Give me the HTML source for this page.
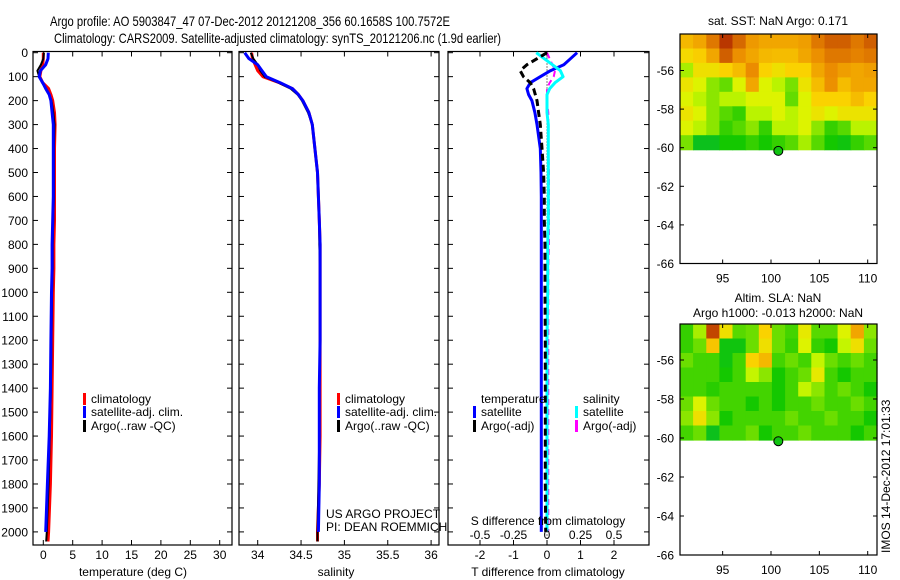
<!DOCTYPE html>
<html><head><meta charset="utf-8"><style>
html,body{margin:0;padding:0;background:#fff;}
svg{display:block;font-family:"Liberation Sans",sans-serif;}
</style></head><body>
<svg id="fig" width="900" height="580" viewBox="0 0 900 580" xmlns="http://www.w3.org/2000/svg">
<text x="50" y="26" font-size="14" textLength="400" lengthAdjust="spacingAndGlyphs">Argo profile: AO 5903847_47 07-Dec-2012 20121208_356 60.1658S 100.7572E</text>
<text x="54" y="43" font-size="14" textLength="447" lengthAdjust="spacingAndGlyphs">Climatology: CARS2009. Satellite-adjusted climatology: synTS_20121206.nc (1.9d earlier)</text>
<g id="content"></g>
</svg>
<script>
// ---------- data ----------
const depths = [0,25,50,75,100,125,150,175,200,250,300,400,500,600,700,800,900,1000,1200,1400,1600,1800,2000,2040];
const tempClim = [0.0,0.0,-0.1,-0.4,-0.6,-0.1,0.9,1.3,1.6,1.9,2.0,1.9,1.9,1.9,1.9,1.8,1.8,1.7,1.6,1.5,1.4,1.2,0.9,0.8];
const tempSat  = [0.85,0.8,0.4,-0.5,-0.7,-0.1,0.4,1.0,1.3,1.5,1.7,1.7,1.7,1.7,1.6,1.5,1.5,1.4,1.3,1.2,1.0,0.7,0.4,0.3];
const tempArgo = [0.1,0.0,-0.4,-1.0,-0.7,-0.2,0.5,1.0,1.4,1.7,1.9,1.8,1.8,1.8,1.7,1.6,1.6,1.5,1.4,1.3,1.1,0.9,0.6,0.5];
const salClim = [33.93,33.94,33.97,34.0,34.06,34.25,34.40,34.47,34.52,34.59,34.63,34.66,34.69,34.70,34.71,34.72,34.72,34.72,34.72,34.72,34.72,34.71,34.69,34.69];
const salSat  = [33.85,33.9,34.0,34.05,34.10,34.26,34.40,34.47,34.52,34.59,34.63,34.66,34.69,34.70,34.71,34.72,34.72,34.72,34.72,34.71,34.71,34.71,34.70,34.70];
const salArgo = [33.92,33.95,34.0,34.03,34.08,34.24,34.38,34.46,34.51,34.58,34.63,34.66,34.69,34.70,34.71,34.71,34.72,34.72,34.72,34.71,34.71,34.70,34.69,34.69];
const diffDepths = [0,25,50,75,100,125,150,175,200,250,300,400,500,600,700,800,900,1000,1200,1400,1600,1800,2000];
const dTsat  = [0.9,0.7,0.5,0.1,-0.2,-0.5,-0.6,-0.55,-0.45,-0.36,-0.3,-0.2,-0.18,-0.17,-0.17,-0.17,-0.17,-0.17,-0.17,-0.17,-0.17,-0.17,-0.17];
const dSsat  = [-0.08,-0.02,0.04,0.1,0.12,0.06,0.02,0.0,0.0,0.0,0.01,0.01,0.01,0.01,0.01,0.005,0.005,0.005,0.0,0.0,0.0,0.0,0.0];
const dTargo = [0.0,-0.3,-0.6,-0.8,-0.7,-0.5,-0.4,-0.35,-0.3,-0.25,-0.2,-0.15,-0.1,-0.08,-0.08,-0.06,-0.06,-0.06,-0.05,-0.05,-0.05,-0.05,-0.04];
const dSargo = [0.0,0.02,0.04,0.06,0.05,0.02,0.0,0.0,0.0,0.01,0.01,0.01,0.015,0.015,0.015,0.015,0.01,0.01,0.01,0.01,0.01,0.01,0.01];
const depthTicks = [0,100,200,300,400,500,600,700,800,900,1000,1100,1200,1300,1400,1500,1600,1700,1800,1900,2000];
const tempTicks = [0,5,10,15,20,25,30];
const salTicks = [34,34.5,35,35.5,36];
const salTickLabels = ["34","34.5","35","35.5","36"];
const dTTicks = [-2,-1,0,1,2];
const dSTicks = [-0.5,-0.25,0,0.25,0.5];
const dSTickLabels = ["-0.5","-0.25","0","0.25","0.5"];
const latTicks = [-56,-58,-60,-62,-64,-66];
const lonTicks = [95,100,105,110];
const sstGrid = [
 [.68,.72,.82,.95,.85,.75,.72,.72,.72,.74,.82,.87,.87,.82,.87],
 [.6,.63,.72,.87,.77,.72,.68,.67,.67,.72,.77,.82,.82,.8,.82],
 [.45,.58,.58,.62,.67,.78,.62,.58,.62,.62,.72,.78,.74,.72,.74],
 [.57,.52,.42,.37,.52,.72,.52,.47,.4,.57,.67,.77,.67,.72,.72],
 [.52,.47,.42,.47,.47,.52,.52,.52,.37,.52,.62,.62,.62,.67,.62],
 [.57,.52,.42,.35,.3,.47,.47,.52,.47,.52,.57,.52,.57,.57,.57],
 [.52,.47,.42,.3,.35,.42,.3,.47,.47,.52,.42,.3,.35,.47,.47],
 [.4,.15,.15,.25,.25,.3,.25,.3,.35,.45,.35,.25,.2,.3,.35]];
const slaGrid = [
 [.3,.45,.92,.58,.35,.38,.62,.38,.32,.55,.35,.35,.52,.72,.42],
 [.3,.38,.65,.2,.2,.38,.58,.38,.3,.52,.3,.25,.48,.58,.38],
 [.38,.32,.32,.2,.32,.62,.68,.32,.38,.32,.48,.38,.32,.38,.32],
 [.32,.32,.32,.25,.32,.48,.42,.25,.32,.38,.55,.32,.25,.32,.32],
 [.32,.32,.28,.32,.32,.32,.32,.25,.32,.48,.42,.32,.38,.32,.25],
 [.38,.52,.38,.32,.32,.25,.32,.25,.32,.32,.38,.32,.32,.38,.32],
 [.42,.58,.42,.25,.32,.32,.32,.32,.38,.32,.32,.38,.32,.32,.25],
 [.32,.38,.15,.32,.32,.38,.25,.32,.32,.38,.32,.32,.32,.25,.32]];
const argoLon = [100.7572];
const argoLat = [-60.1658];

// ---------- helpers ----------
const NS="http://www.w3.org/2000/svg";
const root=document.getElementById('content');
function mk(tag,attrs,parent){const e=document.createElementNS(NS,tag);for(const k in attrs)e.setAttribute(k,attrs[k]);(parent||root).appendChild(e);return e;}
function txt(s,x,y,size,anchor,parent){const t=mk('text',{x:x,y:y,'font-size':size||12,'text-anchor':anchor||'start'},parent);t.textContent=s;return t;}

const yD = d => 52.7 + d*0.2396;
const PT={x0:33,x1:232}, PS={x0:239,x1:439}, PD={x0:448,x1:649};
const TOP=51.5, BOT=545;
const xT = t => 43.3 + t*5.88;
const xS = s => 257.7 + (s-34)*86.7;
const xDT = t => 547 + t*33.5;
const xDS = s => 547 + s*134;

function box(P,name){
  const g=mk('g',{});
  
  
  mk('rect',{x:P.x0,y:TOP,width:P.x1-P.x0,height:BOT-TOP,fill:'#fff',stroke:'#000','stroke-width':1.2},g);
  return g;
}
function yticks(P,g,labels){
  depthTicks.forEach(d=>{
    const y=yD(d);
    mk('line',{x1:P.x0,x2:P.x0+5,y1:y,y2:y,stroke:'#000'},g);
    mk('line',{x1:P.x1,x2:P.x1-5,y1:y,y2:y,stroke:'#000'},g);
    if(labels){const t=txt(String(d),28,y+4.5,12,'end',g);
      
      }
  });
}
function xticks(P,g,vals,fx,labels,ly){
  vals.forEach((v,i)=>{
    const x=fx(v);
    mk('line',{x1:x,x2:x,y1:BOT,y2:BOT-5,stroke:'#000'},g);
    mk('line',{x1:x,x2:x,y1:TOP,y2:TOP+5,stroke:'#000'},g);
    if(labels){const t=txt(labels[i],x,ly,12,'middle',g);
      
      }
  });
}
function line(g,ds,vals,fx,fy,color,w,dash,name){
  const pts=vals.map((v,i)=>fx(v).toFixed(1)+','+fy(ds[i]).toFixed(1)).join(' ');
  const p=mk('polyline',{points:pts,fill:'none',stroke:color,'stroke-width':w,'stroke-linejoin':'round'},g);
  if(dash)p.setAttribute('stroke-dasharray',dash);
  
  
  return p;
}
function legendEntry(g,x,y,color,label){
  const e=mk('g',{},g);
  
  
  mk('rect',{x:x,y:y-10,width:3,height:12,fill:color},e);
  txt(label,x+8,y,12,'start',e);
}

// ---------- panel 1: temperature ----------
const g1=box(PT,'temperature-panel');
yticks(PT,g1,true);
xticks(PT,g1,tempTicks,xT,tempTicks.map(String),559);
line(g1,depths,tempClim,xT,yD,'#f00',3,null,'temp-climatology-line');
line(g1,depths,tempArgo,xT,yD,'#000',2,null,'temp-argo-line');
line(g1,depths.slice(0,23),tempSat.slice(0,23),xT,yD,'#00f',3,null,'temp-satellite-line');
txt('temperature (deg C)',133,576,12,'middle',g1);
legendEntry(g1,83,403,'#f00','climatology');
legendEntry(g1,83,416,'#00f','satellite-adj. clim.');
legendEntry(g1,83,430,'#000','Argo(..raw -QC)');

// ---------- panel 2: salinity ----------
const g2=box(PS,'salinity-panel');
yticks(PS,g2,false);
xticks(PS,g2,salTicks,xS,salTickLabels,559);
line(g2,depths,salClim,xS,yD,'#f00',3,null,'sal-climatology-line');
line(g2,depths,salArgo,xS,yD,'#000',2,null,'sal-argo-line');
line(g2,depths.slice(0,23),salSat.slice(0,23),xS,yD,'#00f',3,null,'sal-satellite-line');
txt('salinity',336,576,12,'middle',g2);
legendEntry(g2,337,403,'#f00','climatology');
legendEntry(g2,337,416,'#00f','satellite-adj. clim.');
legendEntry(g2,337,430,'#000','Argo(..raw -QC)');
txt('US ARGO PROJECT',326,518,12,'start',g2);
txt('PI: DEAN ROEMMICH',326,531,12,'start',g2);

// ---------- panel 3: differences ----------
const g3=box(PD,'difference-panel');
yticks(PD,g3,false);
xticks(PD,g3,dTTicks,xDT,dTTicks.map(String),559);
mk('line',{x1:xDT(0),x2:xDT(0),y1:TOP,y2:BOT,stroke:'#000','stroke-dasharray':'1,2'},g3);
line(g3,diffDepths,dTsat,xDT,yD,'#00f',3,null,'dT-satellite-line');
line(g3,diffDepths,dSargo,xDS,yD,'#f0f',2,'6,4','dS-argo-line');
line(g3,diffDepths,dSsat,xDS,yD,'#0ff',3,null,'dS-satellite-line');
line(g3,diffDepths,dTargo,xDT,yD,'#000',3,'7,4','dT-argo-line');
dSTicks.forEach((v,i)=>{const t=txt(dSTickLabels[i],xDS(v),539,12,'middle',g3);
  
  });
txt('S difference from climatology',548,525,12,'middle',g3);
txt('T difference from climatology',548,576,12,'middle',g3);
txt('temperature',481,403,12,'start',g3);
txt('salinity',583,403,12,'start',g3);
legendEntry(g3,473,416,'#00f','satellite');
legendEntry(g3,473,430,'#000','Argo(-adj)');
legendEntry(g3,575,416,'#0ff','satellite');
legendEntry(g3,575,430,'#f0f','Argo(-adj)');

// ---------- maps ----------
function cmap(v){
  const stops=[[0,[0,180,70]],[0.25,[20,200,0]],[0.4,[120,225,0]],[0.5,[215,250,0]],[0.62,[250,210,0]],[0.78,[235,140,0]],[1,[170,30,0]]];
  for(let i=1;i<stops.length;i++){if(v<=stops[i][0]){const a=stops[i-1],b=stops[i];const f=(v-a[0])/(b[0]-a[0]);
    const c=a[1].map((x,j)=>Math.round(x+(b[1][j]-x)*f));return 'rgb('+c.join(',')+')';}}
  return 'rgb(170,30,0)';
}
function map(M,grid,name){
  const g=mk('g',{});
  
  
  const xL=lon=>771+(lon-100)*9.67;
  const yL=lat=>M.yref+(-56-lat)*M.dy;
  const x0=680,x1=877,y0=M.top,y1=yL(-66);
  mk('rect',{x:x0,y:y0,width:x1-x0,height:y1-y0,fill:'#fff'},g);
  const imgBot=yL(-60.1), rows=grid.length, cols=grid[0].length;
  const cw=(x1-x0)/cols, ch=(imgBot-y0)/rows;
  grid.forEach((row,r)=>row.forEach((v,c)=>{
    const cell=mk('rect',{x:(x0+c*cw).toFixed(1),y:(y0+r*ch).toFixed(1),width:(cw+0.6).toFixed(1),height:(ch+0.6).toFixed(1),fill:cmap(v)},g);
    
    
  }));
  mk('rect',{x:x0,y:y0,width:x1-x0,height:y1-y0,fill:'none',stroke:'#000','stroke-width':1.2},g);
  latTicks.forEach(l=>{const y=yL(l);
    mk('line',{x1:x0,x2:x0+4,y1:y,y2:y,stroke:'#000'},g);
    mk('line',{x1:x1,x2:x1-4,y1:y,y2:y,stroke:'#000'},g);
    txt(String(l),674,y+4.5,12,'end',g);});
  lonTicks.forEach(l=>{const x=xL(l);
    mk('line',{x1:x,x2:x,y1:y1,y2:y1-4,stroke:'#000'},g);
    mk('line',{x1:x,x2:x,y1:y0,y2:y0+4,stroke:'#000'},g);
    txt(String(l),x,y1+19,12,'middle',g);});
  const dot=mk('circle',{cx:xL(argoLon[0]),cy:yL(argoLat[0]),r:4.5,fill:'#11c411',stroke:'#000','stroke-width':1},g);
  
  
  M.titles.forEach((t,i)=>txt(t,778,M.titleY+i*15,12,'middle',g));
}
map({top:34,yref:70.5,dy:19.3,titles:['sat. SST: NaN Argo: 0.171'],titleY:25},sstGrid,'sst-map');
map({top:324,yref:360,dy:19.5,titles:['Altim. SLA: NaN','Argo h1000: -0.013 h2000: NaN'],titleY:302},slaGrid,'sla-map');

const stamp=txt('IMOS 14-Dec-2012 17:01:33',0,0,12,'start');
stamp.setAttribute('transform','translate(890,553) rotate(-90)');


</script>
</body></html>
